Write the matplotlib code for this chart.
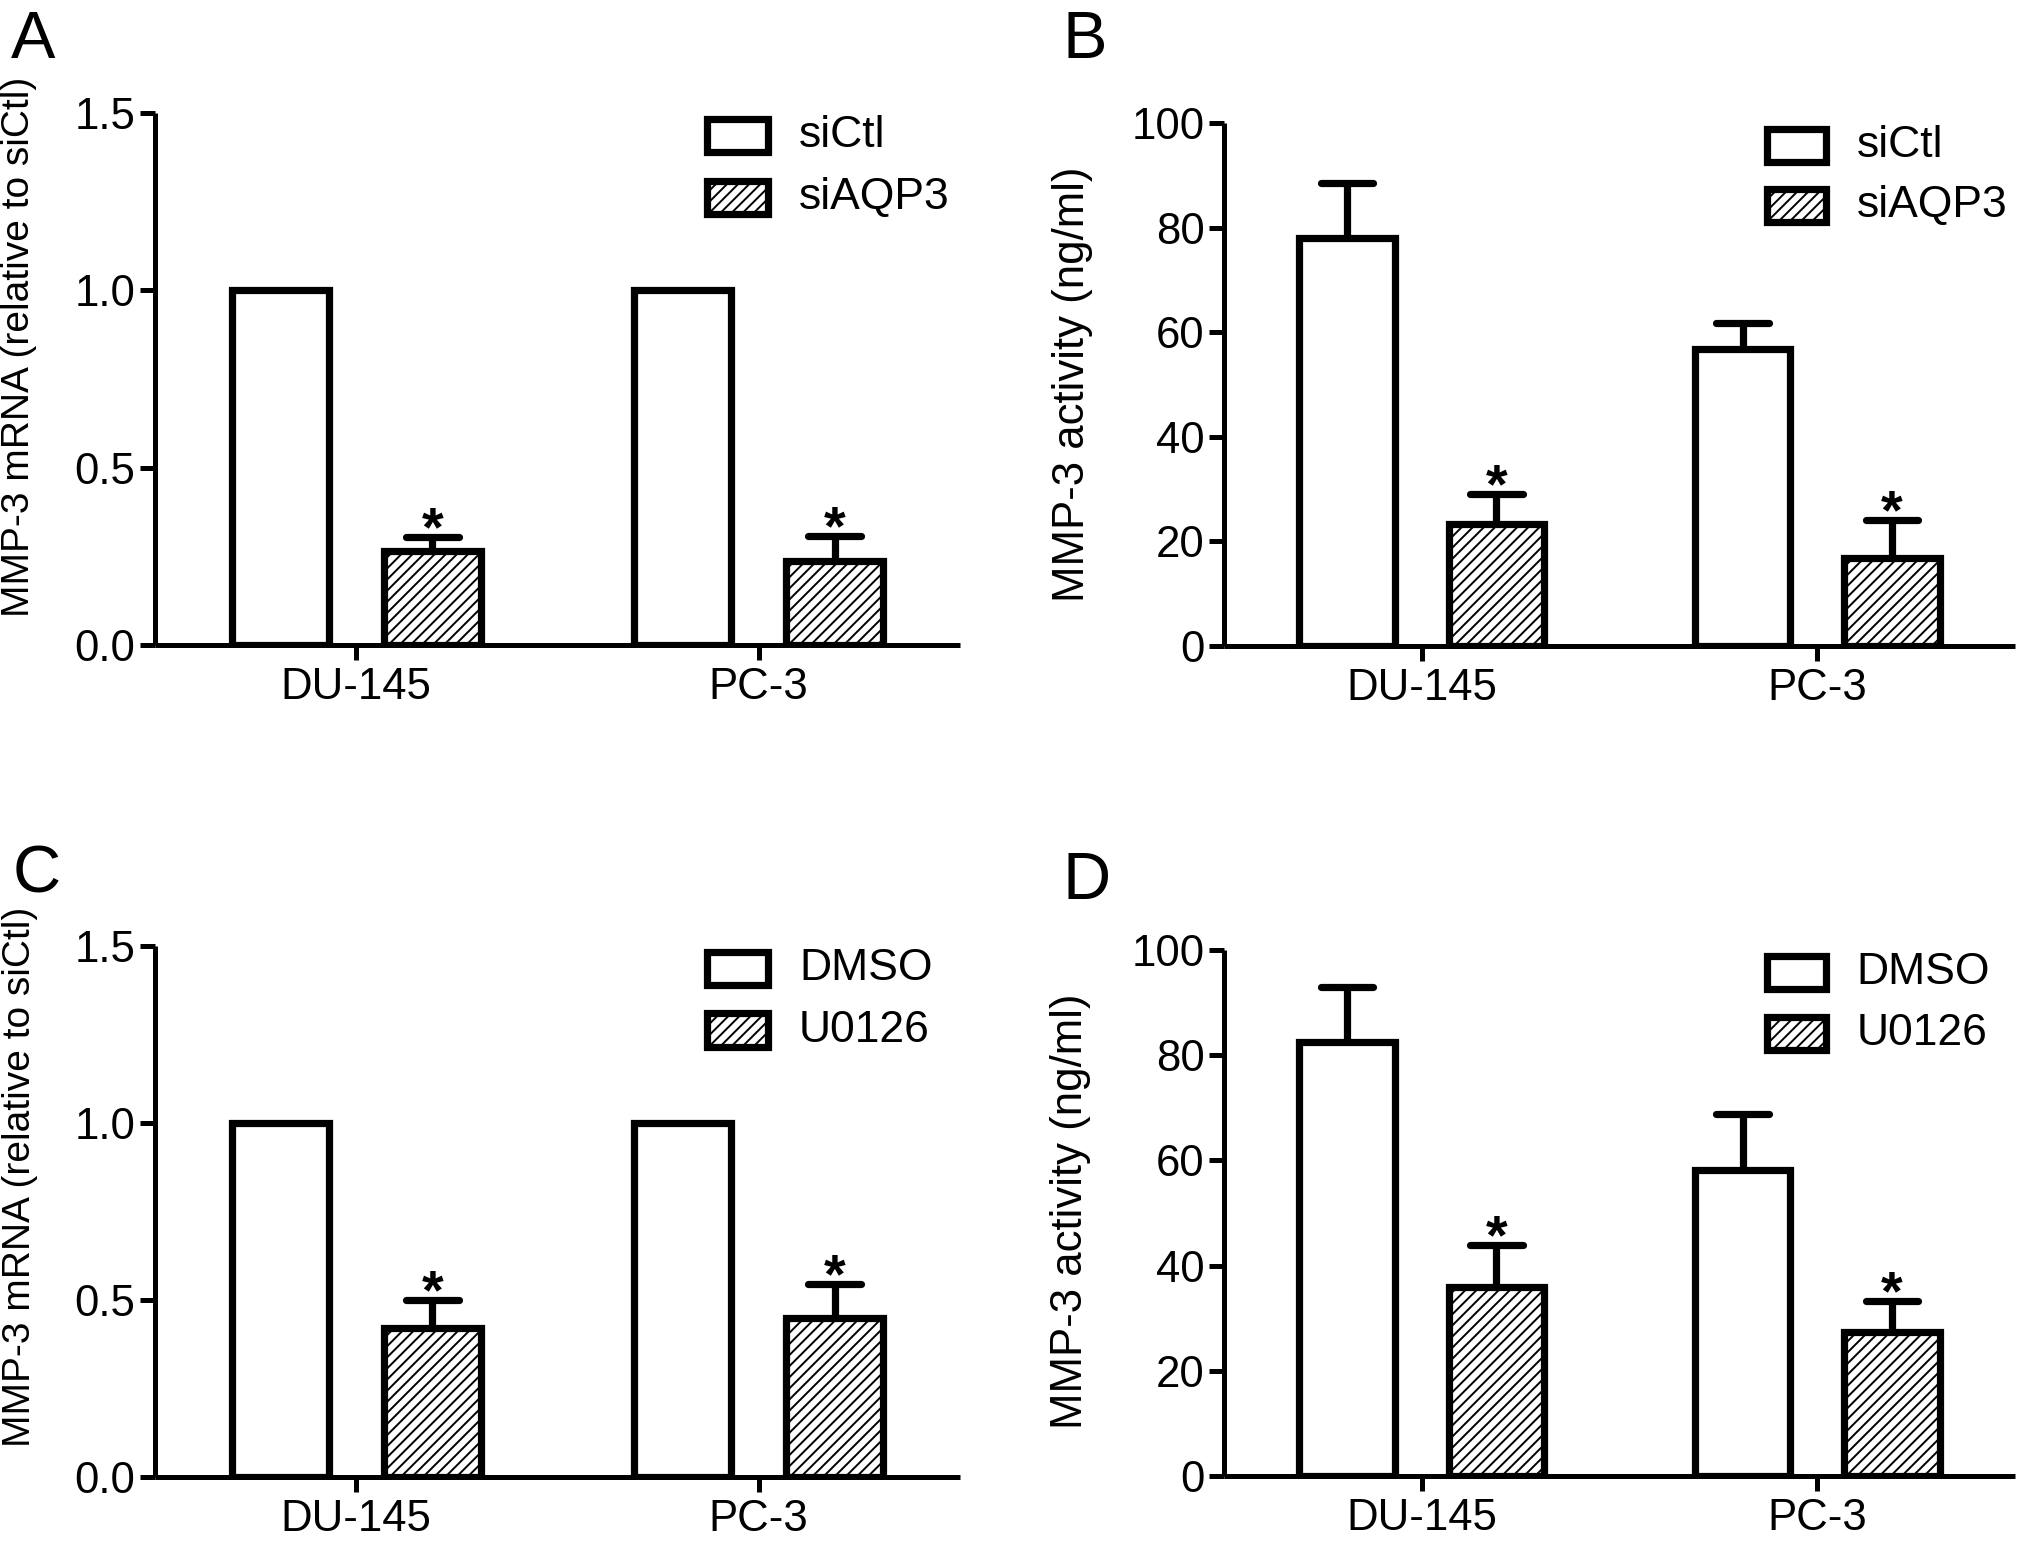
import matplotlib
matplotlib.use('Agg')
import matplotlib.pyplot as plt
from matplotlib.patches import Rectangle
import numpy as np

plt.rcParams['font.family'] = ['Liberation Sans', 'DejaVu Sans']
plt.rcParams['hatch.linewidth'] = 1.4
plt.rcParams['hatch.color'] = 'black'

categories = ['DU-145', 'PC-3']

# Panel A
a_names = ['siCtl', 'siAQP3']
a_ctl = [1.0, 1.0]
a_ctl_err = [0.0, 0.0]
a_trt = [0.265, 0.237]
a_trt_err = [0.040, 0.070]

# Panel B
b_names = ['siCtl', 'siAQP3']
b_ctl = [78.0, 56.8]
b_ctl_err = [10.5, 5.0]
b_trt = [23.3, 16.9]
b_trt_err = [5.8, 7.2]

# Panel C
c_names = ['DMSO', 'U0126']
c_ctl = [1.0, 1.0]
c_ctl_err = [0.0, 0.0]
c_trt = [0.421, 0.449]
c_trt_err = [0.079, 0.096]

# Panel D
d_names = ['DMSO', 'U0126']
d_ctl = [82.5, 58.2]
d_ctl_err = [10.5, 10.6]
d_trt = [35.9, 27.4]
d_trt_err = [8.0, 5.9]

mrna_ticks = [0.0, 0.5, 1.0, 1.5]
mrna_ticklabels = ['0.0', '0.5', '1.0', '1.5']
act_ticks = [0, 20, 40, 60, 80, 100]
act_ticklabels = ['0', '20', '40', '60', '80', '100']

W, H = 2031, 1546
fig = plt.figure(figsize=(W / 100, H / 100), dpi=100)

LW = 5.2
HATCH = '///'


def draw_panel(rect, ctl, ctl_err, trt, trt_err, names, ticks, ticklabels,
               ylabel, ylabel_size, label_coords, letter, letter_pos):
    ax = fig.add_axes(rect)
    x = np.arange(len(categories))
    w = 0.241
    off = 0.189
    capw = 0.066
    ax.bar(x - off, ctl, w, facecolor='white', edgecolor='black',
           linewidth=LW, zorder=3)
    ax.bar(x + off, trt, w, facecolor='white', edgecolor='black',
           hatch=HATCH, linewidth=LW, zorder=3)
    for xs, vals, errs, sig in ((x - off, ctl, ctl_err, False),
                                (x + off, trt, trt_err, True)):
        for xi, v, e in zip(xs, vals, errs):
            if e > 0:
                ax.vlines(xi, v, v + e, color='black', linewidth=LW, zorder=2)
                ax.hlines(v + e, xi - capw, xi + capw, color='black',
                          linewidth=LW, capstyle='round', zorder=2)
            if sig:
                ax.annotate('*', xy=(xi, v + e), xytext=(0, -6),
                            textcoords='offset points', ha='center',
                            va='baseline', fontsize=40, fontweight='bold')
    ax.set_xlim(-0.5, 1.5)
    ax.set_ylim(ticks[0], ticks[-1])
    ax.set_xticks(x)
    ax.set_xticklabels(categories)
    ax.set_yticks(ticks)
    ax.set_yticklabels(ticklabels)
    for s in ('top', 'right'):
        ax.spines[s].set_visible(False)
    for s in ('left', 'bottom'):
        ax.spines[s].set_linewidth(3.6)
        ax.spines[s].set_capstyle('butt')
    ax.tick_params(axis='both', direction='out', length=11, width=3.6,
                   labelsize=31.5, color='black')
    ax.tick_params(axis='y', pad=3)
    ax.tick_params(axis='x', pad=5)
    ax.set_ylabel(ylabel, fontsize=ylabel_size)
    ax.yaxis.set_label_coords(*label_coords)
    # legend
    for i, (name, hatch) in enumerate(zip(names, [None, HATCH])):
        y0 = [0.926, 0.810][i]
        r = Rectangle((0.686, y0), 0.075, 0.063, transform=ax.transAxes,
                      facecolor='white', edgecolor='black', hatch=hatch,
                      linewidth=LW, clip_on=False, zorder=4)
        ax.add_patch(r)
        ax.text(0.80, y0 + 0.0315, name, transform=ax.transAxes,
                fontsize=32, va='center', ha='left')
    fig.text(letter_pos[0] / W, 1 - letter_pos[1] / H, letter, fontsize=48,
             va='top', ha='left')
    return ax


def frac(left, top, right, bottom):
    return [left / W, 1 - bottom / H, (right - left) / W, (bottom - top) / H]


draw_panel(frac(155, 113, 960, 645), a_ctl, a_ctl_err, a_trt, a_trt_err,
           a_names, mrna_ticks, mrna_ticklabels,
           'MMP-3 mRNA (relative to siCtl)', 28, (-0.147, 0.56), 'A', (11, 10))
draw_panel(frac(1224, 123, 2015, 646), b_ctl, b_ctl_err, b_trt, b_trt_err,
           b_names, act_ticks, act_ticklabels,
           'MMP-3 activity (ng/ml)', 31.5, (-0.165, 0.5), 'B', (1062, 10))
draw_panel(frac(155, 946, 960, 1477), c_ctl, c_ctl_err, c_trt, c_trt_err,
           c_names, mrna_ticks, mrna_ticklabels,
           'MMP-3 mRNA (relative to siCtl)', 28, (-0.145, 0.565), 'C', (13, 845))
draw_panel(frac(1224, 950, 2015, 1476), d_ctl, d_ctl_err, d_trt, d_trt_err,
           d_names, act_ticks, act_ticklabels,
           'MMP-3 activity (ng/ml)', 31.5, (-0.168, 0.503), 'D', (1062, 851))

fig.savefig('out.png', dpi=100, facecolor='white')
